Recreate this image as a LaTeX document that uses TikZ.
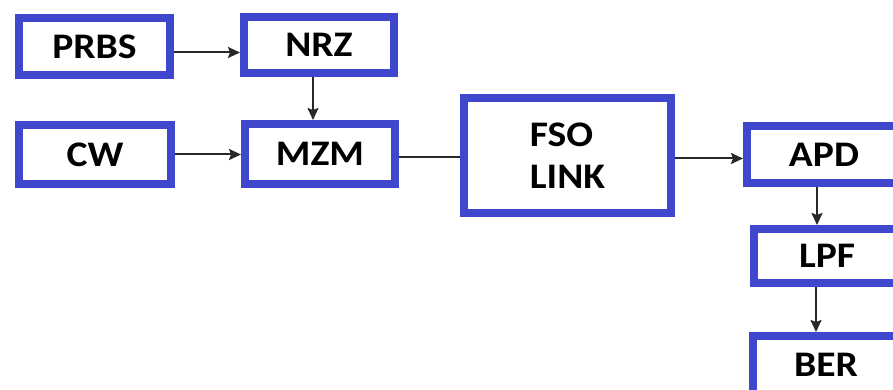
\documentclass[tikz,border=0pt]{standalone}
\usepackage{fontspec}
\setmainfont{Carlito}[FakeStretch=1.1]
\usetikzlibrary{arrows.meta}
\definecolor{boxblue}{RGB}{63,72,204}
\definecolor{arrgray}{RGB}{40,40,40}
\begin{document}
\begin{tikzpicture}[x=1pt,y=-1pt,
  blk/.style={draw=boxblue, line width=8pt, fill=white, inner sep=0pt,
    font=\fontsize{36}{42}\selectfont\bfseries, text=black},
  arr/.style={draw=arrgray, line width=2pt, -{Stealth[length=12pt,width=11pt,inset=2pt]}},
  lnk/.style={draw=arrgray, line width=2pt}]
\useasboundingbox (0,0) rectangle (893,390);
\clip (0,0) rectangle (893,390);
\fill[white] (0,0) rectangle (893,390);
\node[blk, minimum width=151pt, minimum height=57pt] (prbs) at (94.5,46.5) {PRBS};
\node[blk, minimum width=150pt, minimum height=56pt] (nrz) at (319,45) {NRZ};
\node[blk, minimum width=152pt, minimum height=59pt] (cw) at (95,154.5) {CW};
\node[blk, minimum width=150pt, minimum height=60pt] (mzm) at (320,154) {MZM};
\node[blk, minimum width=207pt, minimum height=115pt, align=left] (fso) at (567.5,155.5) {FSO\\LINK};
\node[blk, minimum width=154pt, minimum height=57pt] (apd) at (824,154.5) {APD};
\node[blk, minimum width=146pt, minimum height=54pt] (lpf) at (827,256) {LPF};
\node[blk, minimum width=146pt, minimum height=58pt] (ber) at (826,365) {BER};
\coordinate (p1) at ([yshift=-6pt]prbs.east);
\draw[arr] (p1) -- (p1 -| nrz.west);
\coordinate (p2) at ([xshift=-6pt]nrz.south);
\draw[arr] (p2) -- (p2 |- mzm.north);
\draw[arr] (cw.east) -- (cw.east -| mzm.west);
\coordinate (p3) at ([yshift=-3pt]mzm.east);
\draw[lnk] (p3) -- (p3 -| fso.west);
\coordinate (p4) at ([yshift=-3pt]fso.east);
\draw[arr] (p4) -- (p4 -| apd.west);
\coordinate (p5) at ([xshift=-7pt]apd.south);
\draw[arr] (p5) -- (p5 |- lpf.north);
\coordinate (p6) at ([xshift=-11pt]lpf.south);
\draw[arr] (p6) -- (p6 |- ber.north);
\end{tikzpicture}
\end{document}
